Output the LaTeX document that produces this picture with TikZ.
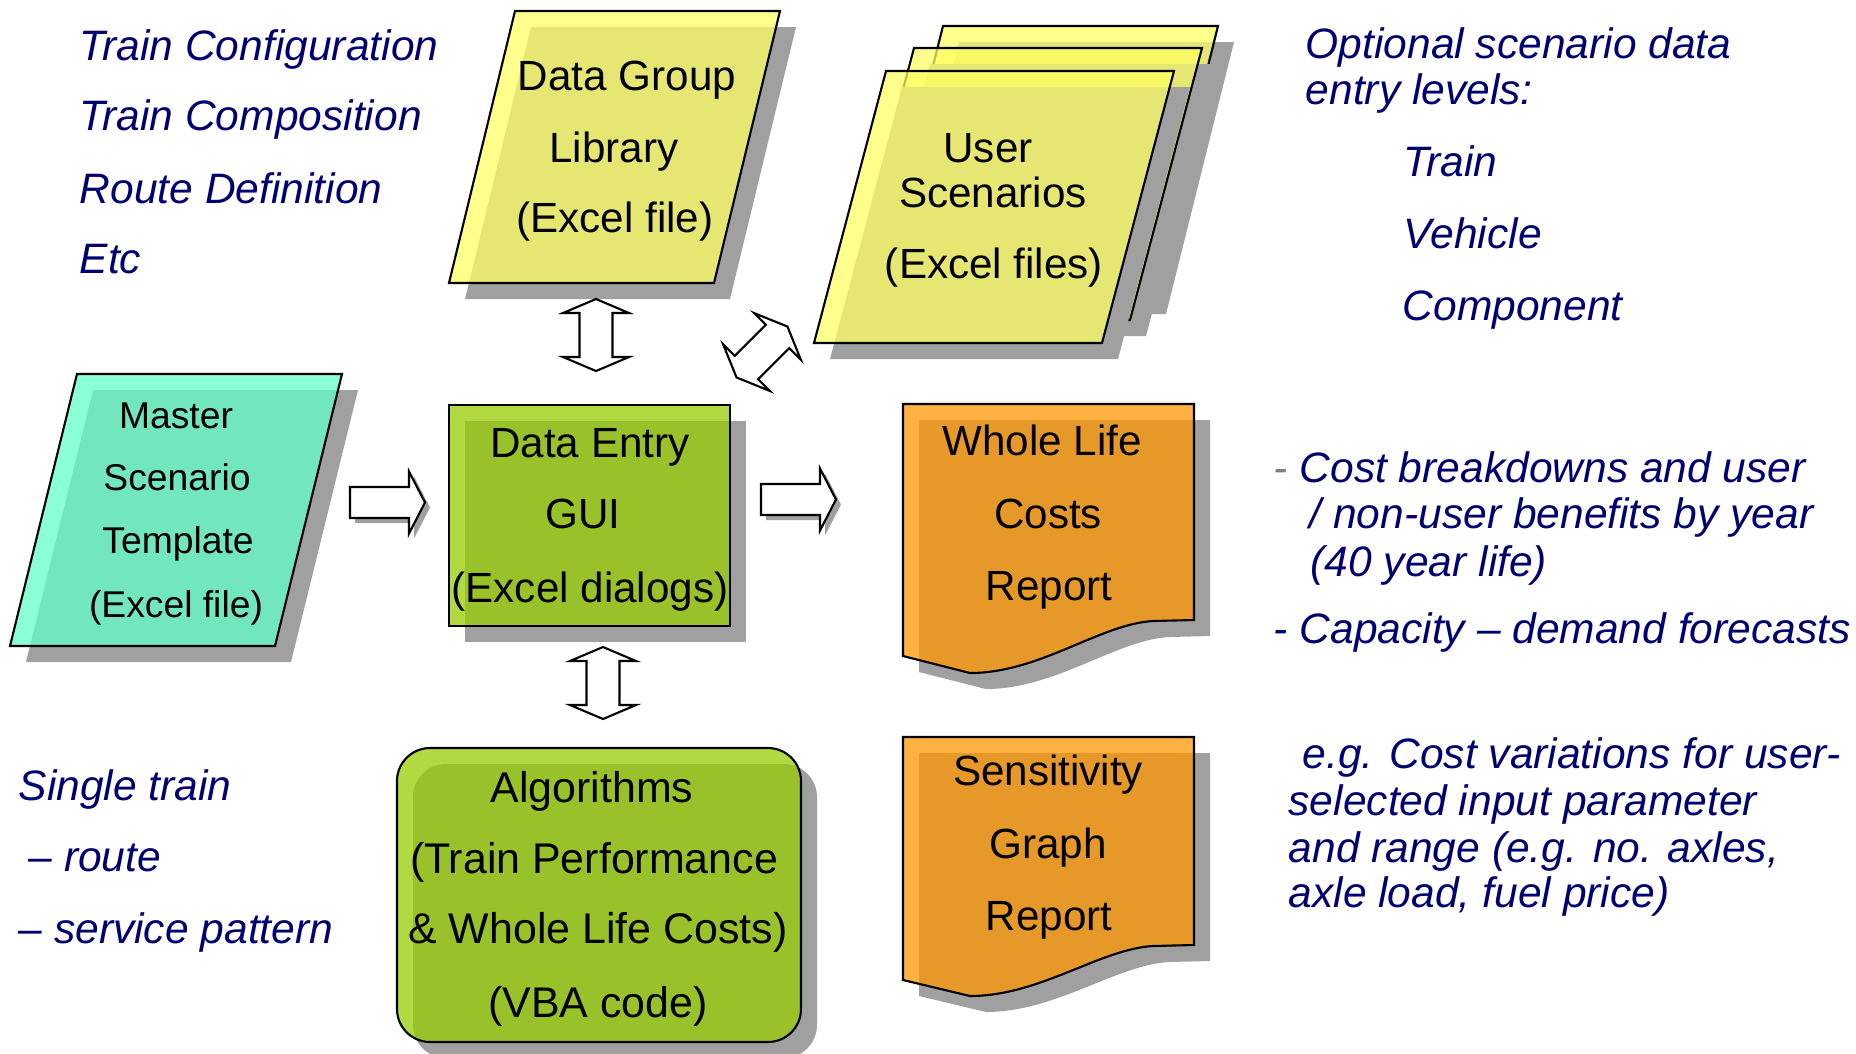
\documentclass[tikz,border=0pt]{standalone}
\usepackage{fontspec}
\setmainfont{Liberation Sans}
\definecolor{shadowc}{RGB}{160,160,160}
\definecolor{yel}{RGB}{255,255,99}
\definecolor{grn}{RGB}{151,205,0}
\definecolor{org}{RGB}{255,151,0}
\definecolor{tealc}{RGB}{99,255,201}
\definecolor{navyc}{RGB}{0,0,112}
\newcommand\shapeshadowed[2]{%
  \fill[shadowc,shift={(16,16)}] #2;
  \draw[boxshape,fill=#1] #2;}
\tikzset{
  boxshape/.style={draw=black, line width=0.6pt, fill opacity=0.74},
  boxtxt/.style={anchor=base, inner sep=0pt, font=\fontsize{12}{14}\selectfont},
  smalltxt/.style={boxtxt, font=\fontsize{10.6}{13}\selectfont},
  algtxt/.style={boxtxt, font=\fontsize{12.2}{14}\selectfont},
  note/.style={anchor=base west, inner sep=0pt, font=\fontsize{12.1}{14}\selectfont\itshape, text=navyc},
  blockarrow/.style={draw=black, fill=white, line width=0.6pt, line join=miter},
  dblarr/.pic={\draw[blockarrow] (-36,0) -- (-22,33) -- (-22,16.5) -- (22,16.5) -- (22,33) -- (36,0) -- (22,-33) -- (22,-16.5) -- (-22,-16.5) -- (-22,-33) -- cycle;},
  sglarr/.pic={\fill[shadowc,shift={(5,5)}] (0,15.5) -- (59,15.5) -- (59,31) -- (75,0) -- (59,-31) -- (59,-15.5) -- (0,-15.5) -- cycle;
               \draw[blockarrow] (0,15.5) -- (59,15.5) -- (59,31) -- (75,0) -- (59,-31) -- (59,-15.5) -- (0,-15.5) -- cycle;}
}
\begin{document}
\begin{tikzpicture}[x=0.01cm,y=-0.01cm]
\fill[white] (0,0) rectangle (1856,1053);
\useasboundingbox (0,0) rectangle (1856,1053);

% Data Group Library
\shapeshadowed{yel}{(515,11) -- (780,11) -- (714,283) -- (449,283) -- cycle}
\node[boxtxt] (dg1) at (627,90) {Data Group};
\node[boxtxt] (dg2) at (614,162) {Library};
\node[boxtxt] (dg3) at (615,232) {(Excel file)};

% User Scenarios stack
\shapeshadowed{yel}{(943,26) -- (1218,26) -- (1150,298) -- (875,298) -- cycle}
\shapeshadowed{yel}{(914,48) -- (1202,48) -- (1130,320) -- (842,320) -- cycle}
\shapeshadowed{yel}{(886,71) -- (1174,71) -- (1102,343) -- (814,343) -- cycle}
\node[boxtxt] (us1) at (988,162) {User};
\node[boxtxt] (us2) at (993,207) {Scenarios};
\node[boxtxt] (us3) at (994,278) {(Excel files)};

% Master Scenario Template
\shapeshadowed{tealc}{(77,374) -- (342,374) -- (275,646) -- (10,646) -- cycle}
\node[smalltxt] (ms1) at (176,428) {Master};
\node[smalltxt] (ms2) at (177,490) {Scenario};
\node[smalltxt] (ms3) at (178,553) {Template};
\node[smalltxt] (ms4) at (176,617) {(Excel file)};

% Data Entry GUI
\shapeshadowed{grn}{(449,405) rectangle (730,626)}
\node[boxtxt] (de1) at (590,457) {Data Entry};
\node[boxtxt] (de2) at (583,528) {GUI};
\node[boxtxt] (de3) at (590,602) {(Excel dialogs)};

% Whole Life Costs Report
\shapeshadowed{org}{(903,404) -- (1194,404) -- (1194,620) -- (1153,621) .. controls (1100,624) and (1040,673) .. (970,673) -- (903,656) -- cycle}
\node[boxtxt] (wl1) at (1042,455) {Whole Life};
\node[boxtxt] (wl2) at (1048,528) {Costs};
\node[boxtxt] (wl3) at (1049,600) {Report};

% Sensitivity Graph Report
\shapeshadowed{org}{(903,737) -- (1194,737) -- (1194,945) -- (1153,946) .. controls (1100,949) and (1040,996) .. (970,996) -- (903,980) -- cycle}
\node[boxtxt] (sg1) at (1048,785) {Sensitivity};
\node[boxtxt] (sg2) at (1048,858) {Graph};
\node[boxtxt] (sg3) at (1049,930) {Report};

% Algorithms
\shapeshadowed{grn}{[rounded corners=0.33cm] (397,748) rectangle (801,1042)}
\node[algtxt] (al1) at (592,802) {Algorithms};
\node[algtxt] (al2) at (594,873) {(Train Performance};
\node[algtxt] (al3) at (598,943) {\& Whole Life Costs)};
\node[algtxt] (al4) at (598,1017) {(VBA code)};

% block arrows
\pic[rotate=90] at (596,335) {dblarr};
\pic[rotate=90] at (603,683) {dblarr};
\pic[rotate=45] at (762,352) {dblarr};
\pic at (350,502.5) {sglarr};
\pic at (761,499.5) {sglarr};

% notes, top left
\node[note] (n1) at (79,60) {Train Configuration};
\node[note] (n2) at (79,130) {Train Composition};
\node[note] (n3) at (79,203) {Route Definition};
\node[note] (n4) at (79,273) {Etc};

% notes, bottom left
\node[note] (n5) at (18,800) {Single train};
\node[note] (n6) at (28,871) {– route};
\node[note] (n7) at (18,943) {– service pattern};

% notes, top right
\node[note] (r1) at (1305,58) {Optional scenario data};
\node[note] (r2) at (1305,104) {entry levels:};
\node[note] (r3) at (1403,176) {Train};
\node[note] (r4) at (1403,248) {Vehicle};
\node[note] (r5) at (1402,320) {Component};

% notes, middle right
\node[note] (c1) at (1273,482) {{\color{gray}-} Cost breakdowns and user};
\node[note] (c2) at (1309,528) {/ non-user benefits by year};
\node[note] (c3) at (1310,576) {(40 year life)};
\node[note] (c4) at (1273,643) {- Capacity – demand forecasts};

% notes, bottom right
\node[note] (e1) at (1302,768) {e.g. Cost variations for user-};
\node[note] (e2) at (1288,815) {selected input parameter};
\node[note] (e3) at (1288,862) {and range (e.g. no. axles,};
\node[note] (e4) at (1288,907) {axle load, fuel price)};
\end{tikzpicture}
\end{document}
